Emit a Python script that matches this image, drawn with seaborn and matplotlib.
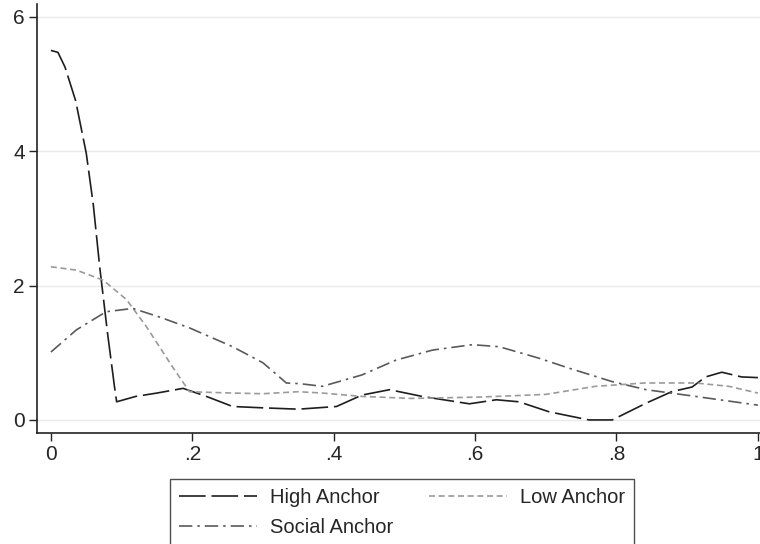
import pandas as pd
import numpy as np
import matplotlib
matplotlib.use("Agg")
import matplotlib.pyplot as plt
import seaborn as sns

# values
high_x = [0, 0.01, 0.02, 0.035, 0.05, 0.06, 0.069, 0.08, 0.09, 0.093, 0.12, 0.15, 0.187,
          0.22, 0.257, 0.3, 0.35, 0.404, 0.44, 0.479, 0.525, 0.592, 0.63, 0.662, 0.705,
          0.761, 0.794, 0.842, 0.878, 0.907, 0.926, 0.949, 0.977, 1.0]
high_y = [5.5, 5.47, 5.25, 4.75, 3.97, 3.2, 2.28, 1.3, 0.49, 0.27, 0.35, 0.4, 0.47,
          0.35, 0.2, 0.18, 0.16, 0.2, 0.37, 0.45, 0.35, 0.24, 0.3, 0.27, 0.12,
          0.0, 0.0, 0.25, 0.42, 0.49, 0.64, 0.71, 0.64, 0.63]

low_x = [0, 0.036, 0.074, 0.107, 0.135, 0.172, 0.196, 0.257, 0.3, 0.35, 0.384, 0.44,
         0.51, 0.606, 0.7, 0.77, 0.84, 0.912, 0.959, 1.0]
low_y = [2.28, 2.23, 2.08, 1.79, 1.39, 0.79, 0.42, 0.40, 0.39, 0.42, 0.40, 0.35,
         0.32, 0.34, 0.38, 0.5, 0.55, 0.55, 0.5, 0.4]

social_x = [0, 0.036, 0.078, 0.116, 0.154, 0.196, 0.257, 0.3, 0.333, 0.352, 0.384, 0.44,
            0.488, 0.54, 0.596, 0.634, 0.69, 0.733, 0.794, 0.842, 0.912, 1.0]
social_y = [1.01, 1.34, 1.61, 1.66, 1.53, 1.37, 1.09, 0.85, 0.55, 0.54, 0.5, 0.67,
            0.89, 1.04, 1.12, 1.09, 0.92, 0.77, 0.57, 0.45, 0.35, 0.22]

groups = ["High Anchor", "Low Anchor", "Social Anchor"]
x_ticks = [0, 0.2, 0.4, 0.6, 0.8, 1.0]
x_labels = ["0", ".2", ".4", ".6", ".8", "1"]
y_ticks = [0, 2, 4, 6]

df = pd.concat([
    pd.DataFrame({"x": high_x, "y": high_y, "group": groups[0]}),
    pd.DataFrame({"x": low_x, "y": low_y, "group": groups[1]}),
    pd.DataFrame({"x": social_x, "y": social_y, "group": groups[2]}),
])

sns.set_style("white")
plt.rcParams["font.family"] = ["Liberation Sans", "DejaVu Sans"]

colors = {"High Anchor": "#1e1e1e", "Low Anchor": "#9a9a9a", "Social Anchor": "#5a5a5a"}
dashes = {"High Anchor": (16, 3.5), "Low Anchor": (3.6, 2.2), "Social Anchor": (8, 3, 1.5, 3)}

fig = plt.figure(figsize=(7.6, 5.44), dpi=100)
ax = fig.add_axes([0.0493, 0.2046, 0.9507, 0.788])

sns.lineplot(data=df, x="x", y="y", hue="group", style="group", palette=colors,
             dashes=dashes, linewidth=1.2, sort=False, estimator=None, ax=ax, legend=False)

ax.set_xlim(-0.019, 1.003)
ax.set_ylim(-0.19, 6.19)
ax.set_xticks(x_ticks)
ax.set_xticklabels(x_labels)
ax.set_yticks(y_ticks)
ax.set_xlabel("")
ax.set_ylabel("")
ax.yaxis.grid(True, color="#eaeaea", linewidth=1)
ax.set_axisbelow(True)
for s in ["top", "right"]:
    ax.spines[s].set_visible(False)
for s in ["left", "bottom"]:
    ax.spines[s].set_color("#222222")
    ax.spines[s].set_linewidth(1.2)
ax.tick_params(axis="both", direction="out", length=6, width=1, color="#222222",
               labelsize=15, pad=3, bottom=True, left=True)

handles = [plt.Line2D([], [], color=colors[g], linewidth=1.2, dashes=dashes[g]) for g in groups]
order = [0, 2, 1]
leg = fig.legend([handles[i] for i in order], [groups[i] for i in order], ncol=2,
                 loc="upper left", bbox_to_anchor=(170 / 760, 1 - 479 / 544), fontsize=14.5,
                 handlelength=3.85, handletextpad=0.65, columnspacing=1.8,
                 labelspacing=0.55, fancybox=False, borderpad=0.45, borderaxespad=0)
leg.get_frame().set_edgecolor("#222222")
leg.get_frame().set_linewidth(1)

fig.savefig("out.png", dpi=100)
